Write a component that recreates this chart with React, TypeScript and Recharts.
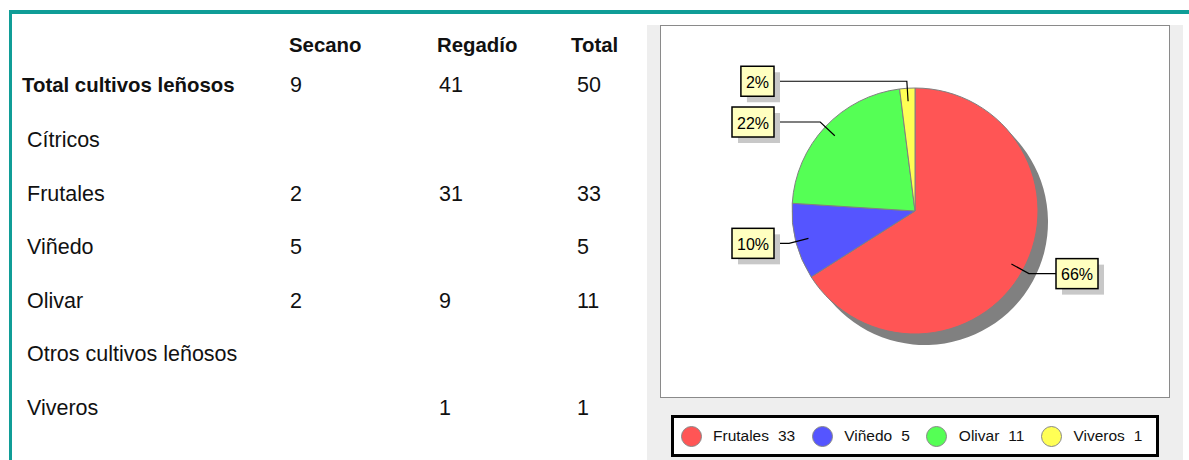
import { Cell, Pie, PieChart } from "recharts";

const FONT = '"Liberation Sans", Arial, sans-serif';
const TEAL = "#109d97";

// table
const columns = ["Secano", "Regadío", "Total"];
const rowNames = [
  "Total cultivos leñosos",
  "Cítricos",
  "Frutales",
  "Viñedo",
  "Olivar",
  "Otros cultivos leñosos",
  "Viveros",
];
const secano = [9, null, 2, 5, 2, null, null];
const regadio = [41, null, 31, null, 9, null, 1];
const total = [50, null, 33, 5, 11, null, 1];

// pie
const cropNames = ["Frutales", "Viñedo", "Olivar", "Viveros"];
const cropValues = [33, 5, 11, 1];
const COLORS = ["#ff5555", "#5555ff", "#55ff55", "#ffff55"];

const data = cropNames.map((name, i) => ({ name, value: cropValues[i] }));

const RAD = Math.PI / 180;

const PctLabel = (p: any) => {
  const { cx, cy, midAngle, outerRadius, percent } = p;
  const cos = Math.cos(-midAngle * RAD);
  const sin = Math.sin(-midAngle * RAD);
  const x0 = cx + (outerRadius - 13) * cos;
  const y0 = cy + (outerRadius - 13) * sin;
  const x1 = cx + (outerRadius + 7) * cos;
  const y1 = cy + (outerRadius + 7) * sin;
  const right = cos >= 0;
  const text = `${Math.round(percent * 100)}%`;
  const w = (text.length - 1) * 8.9 + 14.2 + 10;
  const bx = right ? cx + outerRadius + 18 : cx - outerRadius - 18 - w;
  const edge = right ? bx : bx + w;
  return (
    <g>
      <polyline
        points={`${x0},${y0} ${x1},${y1} ${edge},${y1}`}
        fill="none"
        stroke="#000"
        strokeWidth={1.2}
      />
      <rect x={bx + 6} y={y1 - 9} width={w} height={30} fill="#c8c8c8" />
      <rect x={bx} y={y1 - 15} width={w} height={30} fill="#ffffc0" stroke="#000" strokeWidth={1.5} />
      <text
        x={bx + w / 2}
        y={y1 + 1}
        textAnchor="middle"
        dominantBaseline="central"
        fontSize={16}
        fontFamily={FONT}
        fill="#000"
      >
        {text}
      </text>
    </g>
  );
};

const rowY = (i: number) => (i === 0 ? 85 : 140 + (i - 1) * 53.5);
const colX = [290, 439, 577];
const headX = [289, 437, 571];

const Txt = ({ x, y, children, bold }: any) => (
  <div
    style={{
      position: "absolute",
      left: x,
      top: y - 15,
      height: 30,
      lineHeight: "30px",
      whiteSpace: "nowrap",
      fontSize: bold ? 20.4 : 21.5,
      fontWeight: bold ? 700 : 400,
      color: "#111",
    }}
  >
    {children}
  </div>
);

export default function App() {
  return (
    <div
      style={{
        position: "absolute",
        left: 0,
        top: 0,
        width: 1189,
        height: 460,
        overflow: "hidden",
        background: "#fff",
        fontFamily: FONT,
      }}
    >
      <div style={{ position: "absolute", left: 9, top: 10, width: 1180, height: 4, background: TEAL }} />
      <div style={{ position: "absolute", left: 9, top: 10, width: 3, height: 450, background: TEAL }} />

      {columns.map((c, i) => (
        <Txt key={c} x={headX[i]} y={45} bold>
          {c}
        </Txt>
      ))}
      {rowNames.map((r, i) => (
        <Txt key={r} x={i === 0 ? 22 : 27} y={rowY(i)} bold={i === 0}>
          {r}
        </Txt>
      ))}
      {[secano, regadio, total].map((col, j) =>
        col.map((v, i) =>
          v == null ? null : (
            <Txt key={`${j}-${i}`} x={colX[j]} y={rowY(i)}>
              {v}
            </Txt>
          )
        )
      )}

      {/* chart panel */}
      <div style={{ position: "absolute", left: 647, top: 25, width: 536, height: 435, background: "#eeeeee" }} />
      <div
        style={{
          position: "absolute",
          left: 660,
          top: 25,
          width: 510,
          height: 373,
          boxSizing: "border-box",
          border: "1px solid #8a8a8a",
          background: "#fff",
        }}
      />
      <div style={{ position: "absolute", left: 660, top: 25 }}>
        <PieChart width={510} height={373} margin={{ top: 0, right: 0, bottom: 0, left: 0 }}>
          <Pie
            data={data}
            dataKey="value"
            cx={265}
            cy={197}
            outerRadius={123}
            startAngle={90}
            endAngle={-270}
            fill="#808080"
            stroke="none"
            isAnimationActive={false}
          />
          <Pie
            data={data}
            dataKey="value"
            cx={255}
            cy={186}
            outerRadius={123}
            startAngle={90}
            endAngle={-270}
            stroke="#808080"
            strokeWidth={1}
            labelLine={false}
            label={PctLabel}
            isAnimationActive={false}
          >
            {data.map((d, i) => (
              <Cell key={d.name} fill={COLORS[i]} />
            ))}
          </Pie>
        </PieChart>
      </div>

      {/* legend */}
      <div
        style={{
          position: "absolute",
          left: 671,
          top: 415,
          width: 488,
          height: 42,
          boxSizing: "border-box",
          border: "3px solid #000",
          background: "#fff",
          display: "flex",
          alignItems: "center",
          paddingLeft: 6.5,
          fontSize: 15.5,
          color: "#111",
        }}
      >
        {data.map((d, i) => (
          <div key={d.name} style={{ display: "flex", alignItems: "center", marginRight: 16.5 }}>
            <div
              style={{
                width: 21,
                height: 21,
                boxSizing: "border-box",
                borderRadius: "50%",
                border: "1px solid #888",
                background: COLORS[i],
                marginRight: 11.5,
              }}
            />
            <span>{d.name}</span>
            <span style={{ marginLeft: 9 }}>{d.value}</span>
          </div>
        ))}
      </div>
    </div>
  );
}
